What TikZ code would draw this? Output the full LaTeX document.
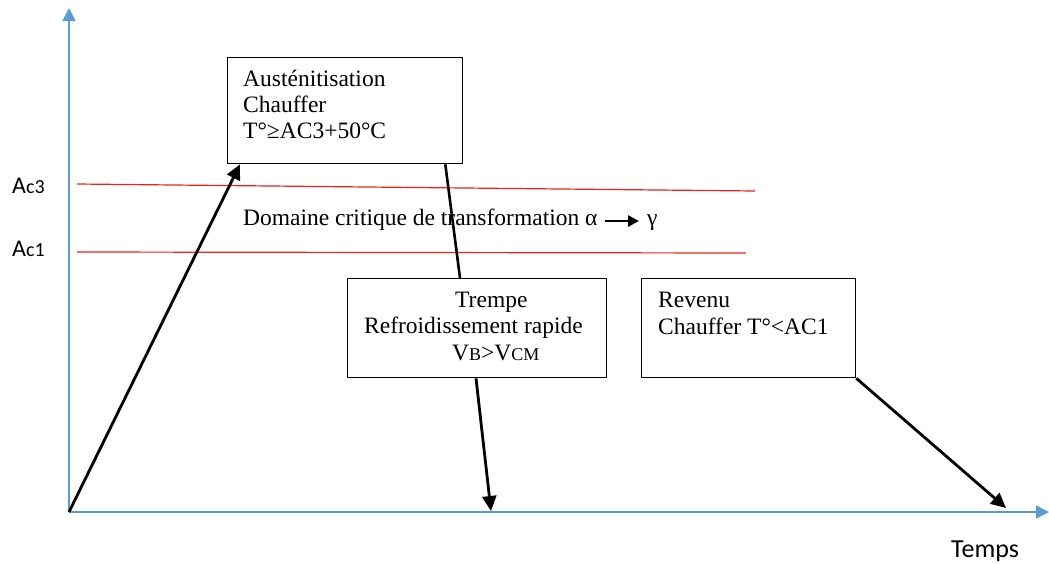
\documentclass[tikz,border=0pt]{standalone}
\usepackage{fontspec}
\setmainfont{Liberation Serif}
\newfontfamily\calfont{Carlito}
\usetikzlibrary{arrows.meta}
\definecolor{axisblue}{RGB}{91,155,213}
\definecolor{critred}{RGB}{240,30,30}
\tikzset{
  axisline/.style={draw=axisblue,line width=1.6pt,-{Triangle[length=13pt,width=13pt]}},
  redline/.style={draw=critred,line width=1.2pt},
  stepbox/.style={draw=black,line width=1.3pt,anchor=north west,inner sep=0pt},
  boxtext/.style={anchor=base west,inner sep=0pt,font=\fontsize{23.5}{26}\selectfont},
  flowarrow/.style={draw=black,line width=2.8pt,-{Triangle[length=15pt,width=14pt]}},
  flowline/.style={draw=black,line width=2.6pt},
  sidelabel/.style={anchor=base west,inner sep=0pt,font=\calfont\fontsize{24}{26}\selectfont},
}
\begin{document}
\begin{tikzpicture}[x=1pt,y=-1pt]
\useasboundingbox (0,0) rectangle (1049,563);
% axes
\coordinate (o) at (69,512);
\coordinate (ytip) at (69,8);
\coordinate (xtip) at (1049,512);
\draw[axisline] (o) -- (ytip);
\draw[axisline] (o) -- (xtip);
% red critical lines
\coordinate (r3a) at (77,184);
\coordinate (r3b) at (755,191);
\coordinate (r1a) at (77,252);
\coordinate (r1b) at (746,253);
\draw[redline] (r3a) -- (r3b);
\draw[redline] (r1a) -- (r1b);
\node[sidelabel] (ac3) at (12,193) {A{\fontsize{20}{22}\selectfont c3}};
\node[sidelabel] (ac1) at (12,256) {A{\fontsize{20}{22}\selectfont c1}};
% boxes
\node[stepbox,minimum width=235pt,minimum height=106pt] (b1) at (227,57) {};
\node[stepbox,minimum width=259pt,minimum height=99pt] (b2) at (347,278) {};
\node[stepbox,minimum width=214pt,minimum height=99pt] (b3) at (641,278) {};
% box texts
\node[boxtext] (t1a) at (243,86) {Austénitisation};
\node[boxtext] (t1b) at (243,112) {Chauffer};
\node[boxtext] (t1c) at (243,138) {T°≥AC3+50°C};
\node[boxtext] (t2a) at (455,307) {Trempe};
\node[boxtext] (t2b) at (364,333) {Refroidissement rapide};
\node[boxtext] (t2c) at (452,360) {V{\fontsize{18}{20}\selectfont B}>V{\fontsize{18}{20}\selectfont CM}};
\node[boxtext] (t3a) at (658,307) {Revenu};
\node[boxtext] (t3b) at (658,334) {Chauffer T°<AC1};
% domain text
\node[boxtext] (dom) at (243,225) {Domaine critique de transformation α};
\node[boxtext] (gam) at (647,225) {γ};
\coordinate (da) at (605,221);
\coordinate (db) at (639,221);
\draw[black,line width=2.6pt,-{Triangle[length=11pt,width=11pt]}] (da) -- (db);
% flow
\draw[flowarrow] (o) -- ([xshift=13pt]b1.south west);
\draw[flowline] ([xshift=-18pt]b1.south east) -- ([xshift=113pt]b2.north west);
\coordinate (e2) at (491,511);
\draw[flowarrow] ([xshift=129pt]b2.south west) -- (e2);
\coordinate (e3) at (1006,508);
\draw[flowarrow] (b3.south east) -- (e3);
% time label
\node[sidelabel,font=\calfont\fontsize{26}{28}\selectfont] (temps) at (951,557) {Temps};
\end{tikzpicture}
\end{document}
